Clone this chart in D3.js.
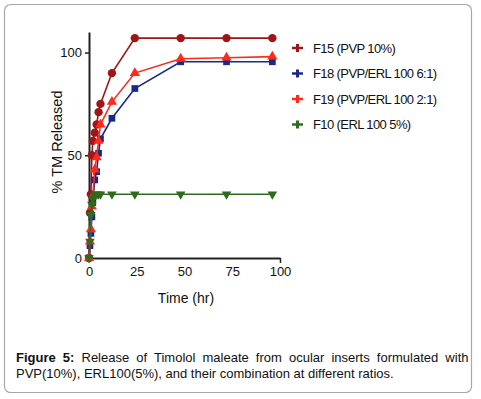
<!DOCTYPE html>
<html>
<head>
<meta charset="utf-8">
<script src="https://cdn.jsdelivr.net/npm/d3@7"></script>
<style>
  body { margin: 0; background: #fff; }
  svg { display: block; font-family: "Liberation Sans", Arial, sans-serif; }
</style>
</head>
<body>
<div id="chart"></div>
<script>
// ---- data ----
const times = [0, 0.5, 1, 1.5, 2, 3, 4, 5, 6, 12, 24, 48, 72, 96];
const seriesNames = ['F15 (PVP 10%)', 'F18 (PVP/ERL 100 6:1)', 'F19 (PVP/ERL 100 2:1)', 'F10 (ERL 100 5%)'];
const f15 = [0, 22, 31, 50, 57, 61, 65, 71, 75, 90, 107, 107, 107, 107];
const f18 = [0, 6, 12, 20, 27, 38, 42, 51, 58, 68, 82.5, 95.5, 95.5, 95.5];
const f19 = [0, 8, 14, 25, 30, 43, 49, 57, 65, 76, 90, 97, 97.5, 98];
const f10 = [0, 8, 21, 26, 29, 30.5, 31, 31, 31, 31, 31, 31, 31, 31];
const xTicks = [0, 25, 50, 75, 100];
const yTicks = [0, 50, 100];

const colors = ['#a01515', '#1a2a8c', '#ff2a1a', '#2e6b1e'];
const symbols = [d3.symbolCircle, d3.symbolSquare, d3.symbolTriangle, 'down'];
const symSizes = [55, 45, 45, 40];
const allSeries = [f15, f18, f19, f10];

const W = 481, H = 399;
const svg = d3.select('#chart').append('svg').attr('width', W).attr('height', H);

// frame
svg.append('rect')
  .attr('x', 4.5).attr('y', 4.5).attr('width', 467).attr('height', 388)
  .attr('rx', 6).attr('fill', 'none').attr('stroke', '#a8a8a8').attr('stroke-width', 1.2);

const x = d3.scaleLinear().domain([0, 100]).range([89, 280]);
const y = d3.scaleLinear().domain([0, 110]).range([258, 32]);

// axes
const yAxis = svg.append('g').attr('transform', 'translate(89,0)')
  .call(d3.axisLeft(y).tickValues(yTicks).tickSize(4).tickPadding(3).tickSizeOuter(0));
const xAxis = svg.append('g').attr('transform', 'translate(0,258)')
  .call(d3.axisBottom(x).tickValues(xTicks).tickSize(5).tickPadding(4).tickSizeOuter(0));
[yAxis, xAxis].forEach(a => {
  a.select('.domain').attr('stroke', '#222').attr('stroke-width', 2);
  a.selectAll('.tick line').attr('stroke', '#222').attr('stroke-width', 1.5);
  a.selectAll('.tick text').attr('font-size', '13px').attr('fill', '#111')
    .attr('font-family', '"Liberation Sans", Arial, sans-serif');
});
// only the last x tick is drawn in the reference
xAxis.selectAll('.tick line').filter(d => d !== 100).remove();

svg.append('text')
  .attr('transform', 'translate(62,142) rotate(-90)')
  .attr('text-anchor', 'middle').attr('font-size', '14.5px').attr('fill', '#111')
  .text('% TM Released');
svg.append('text')
  .attr('x', 186).attr('y', 303)
  .attr('text-anchor', 'middle').attr('font-size', '14px').attr('fill', '#111')
  .text('Time (hr)');

// series
const line = d3.line().x((d, i) => x(times[i])).y(d => y(d));
const symGen = (s, size) => d3.symbol().type(s === 'down' ? d3.symbolTriangle : s).size(size);

allSeries.forEach((vals, k) => {
  svg.append('path').datum(vals)
    .attr('d', line).attr('fill', 'none')
    .attr('stroke', colors[k]).attr('stroke-width', 1.6);
  svg.selectAll(null).data(vals).join('path')
    .attr('d', symGen(symbols[k], symSizes[k])())
    .attr('transform', (d, i) => `translate(${x(times[i])},${y(d)})` + (symbols[k] === 'down' ? ' rotate(180)' : ''))
    .attr('fill', colors[k]);
});

// legend
const leg = svg.append('g').attr('transform', 'translate(292,48)');
seriesNames.forEach((name, k) => {
  const g = leg.append('g').attr('transform', `translate(0,${k * 25.5})`);
  g.append('line').attr('x1', 0).attr('x2', 11).attr('y1', 0).attr('y2', 0)
    .attr('stroke', colors[k]).attr('stroke-width', 2.5);
  g.append('rect').attr('x', 4).attr('y', -4).attr('width', 3).attr('height', 8)
    .attr('fill', colors[k]);
  g.append('text').attr('x', 21).attr('y', 4.5)
    .attr('font-size', '13px').attr('letter-spacing', '-0.6px').attr('fill', '#111')
    .text(name);
});

// caption, first line justified
const cap = svg.append('text').attr('font-size', '13px').attr('fill', '#111');
const l1 = cap.append('tspan').attr('x', 16).attr('y', 362);
const rest1 = ' Release of Timolol maleate from ocular inserts formulated with';
l1.append('tspan').attr('font-weight', 'bold').text('Figure 5:');
l1.append('tspan').text(rest1);
cap.append('tspan').attr('x', 16).attr('y', 378)
  .text('PVP(10%), ERL100(5%), and their combination at different ratios.');
const textLen = l1.node().getComputedTextLength();
const target = 465 - 16;
if (textLen < target) {
  const nSpaces = rest1.split(' ').length - 1;
  l1.attr('word-spacing', ((target - textLen) / nSpaces) + 'px');
}
</script>
</body>
</html>
